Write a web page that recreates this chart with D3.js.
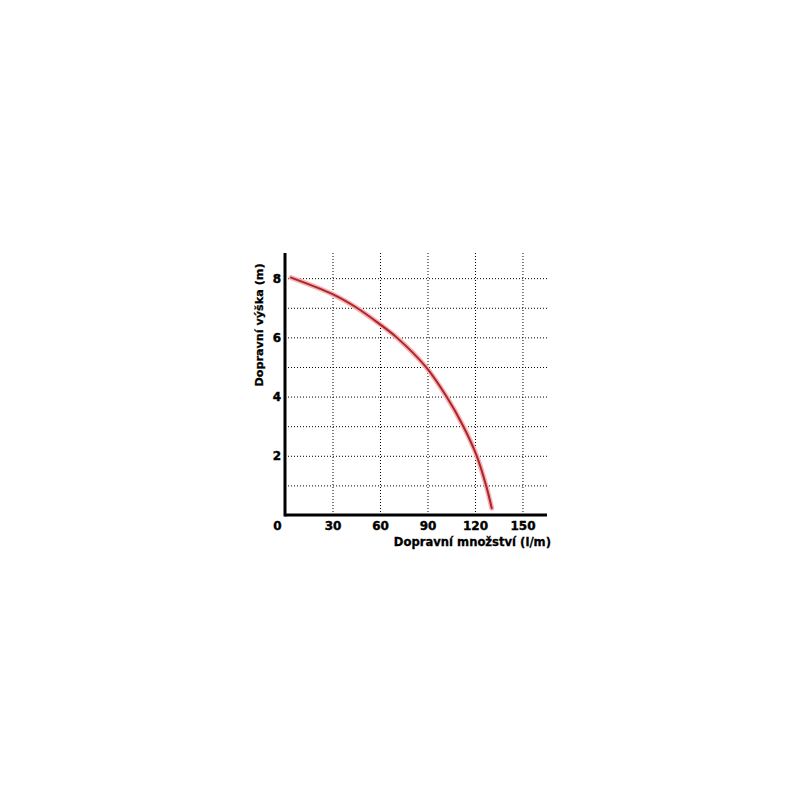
<!DOCTYPE html>
<html>
<head>
<meta charset="utf-8">
<script src="https://cdn.jsdelivr.net/npm/d3@7"></script>
<style>
    body { margin: 0; background: #fff; }
    svg text { font-family: "DejaVu Sans", Verdana, sans-serif; font-weight: bold; fill: #000; }
</style>
</head>
<body>
<div id="chart"></div>
<script>
// pump curve
const flow = [3.8, 30, 45.3, 60, 70.5, 89, 102, 112.6, 121.1, 127, 130.6];
const head = [8.02, 7.46, 7.0, 6.44, 6.0, 5.0, 4.0, 3.0, 2.0, 1.0, 0.23];

const xTicks = [0, 30, 60, 90, 120, 150];
const yTicks = [2, 4, 6, 8];
const xGrid = [30, 60, 90, 120, 150];
const yGrid = [1, 2, 3, 4, 5, 6, 7, 8];

const xTitle = "Dopravní množství (l/m)";
const yTitle = "Dopravní výška (m)";

const width = 800, height = 800;

const svg = d3.select("#chart").append("svg")
    .attr("width", width)
    .attr("height", height);

// scales
let x = d3.scaleLinear().domain([0, 165.5]).range([285, 547]);
let y = d3.scaleLinear().domain([0, 8.85]).range([515, 253]);

// dotted grid
const grid = svg.append("g")
    .attr("stroke", "#000")
    .attr("stroke-width", 1)
    .attr("stroke-dasharray", "1,2");

grid.selectAll(".vg")
    .data(xGrid)
    .enter().append("line")
    .attr("x1", d => x(d) + 0.5)
    .attr("x2", d => x(d) + 0.5)
    .attr("y1", y.range()[1])
    .attr("y2", y(0));

grid.selectAll(".hg")
    .data(yGrid)
    .enter().append("line")
    .attr("x1", x(0))
    .attr("x2", x.range()[1])
    .attr("y1", d => y(d) + 0.5)
    .attr("y2", d => y(d) + 0.5);

// the curve: pink glow under a dark red line
const line = d3.line()
    .x((d, i) => x(flow[i]))
    .y(d => y(d))
    .curve(d3.curveCatmullRom.alpha(0.5));

svg.append("path")
    .datum(head)
    .attr("d", line)
    .attr("fill", "none")
    .attr("stroke", "#f4b4b6")
    .attr("stroke-width", 5)
    .attr("stroke-linecap", "round");

svg.append("path")
    .datum(head)
    .attr("d", line)
    .attr("fill", "none")
    .attr("stroke", "#ad242a")
    .attr("stroke-width", 2)
    .attr("stroke-linecap", "round");

// axes (labels from d3, heavy lines drawn separately)
const xAxis = svg.append("g")
    .attr("transform", "translate(0," + y(0) + ")")
    .call(d3.axisBottom(x).tickValues(xTicks).tickSize(0).tickPadding(6));

const yAxis = svg.append("g")
    .attr("transform", "translate(" + x(0) + ",0)")
    .call(d3.axisLeft(y).tickValues(yTicks).tickSize(0).tickPadding(4));

[xAxis, yAxis].forEach(g => {
    g.select(".domain").remove();
    g.selectAll("text")
        .attr("font-family", "DejaVu Sans, Verdana, sans-serif")
        .attr("font-weight", "bold")
        .attr("font-size", 12)
        .attr("fill", "#000")
        .attr("stroke", "#000")
        .attr("stroke-width", 0.4);
});
// the "0" sits left of the corner
xAxis.selectAll(".tick text").filter(d => d === 0).attr("dx", -8);

svg.append("line")
    .attr("x1", x(0)).attr("x2", x.range()[1])
    .attr("y1", y(0)).attr("y2", y(0))
    .attr("stroke", "#000").attr("stroke-width", 3);

svg.append("line")
    .attr("x1", x(0)).attr("x2", x(0))
    .attr("y1", y.range()[1]).attr("y2", y(0) + 1.5)
    .attr("stroke", "#000").attr("stroke-width", 3);

// titles
svg.append("text")
    .attr("x", 551)
    .attr("y", 546)
    .attr("text-anchor", "end")
    .attr("font-size", 11.6)
    .attr("stroke", "#000")
    .attr("stroke-width", 0.3)
    .text(xTitle);

svg.append("text")
    .attr("transform", "translate(263,325) rotate(-90)")
    .attr("text-anchor", "middle")
    .attr("font-size", 11.2)
    .attr("stroke", "#000")
    .attr("stroke-width", 0.3)
    .text(yTitle);
</script>
</body>
</html>
